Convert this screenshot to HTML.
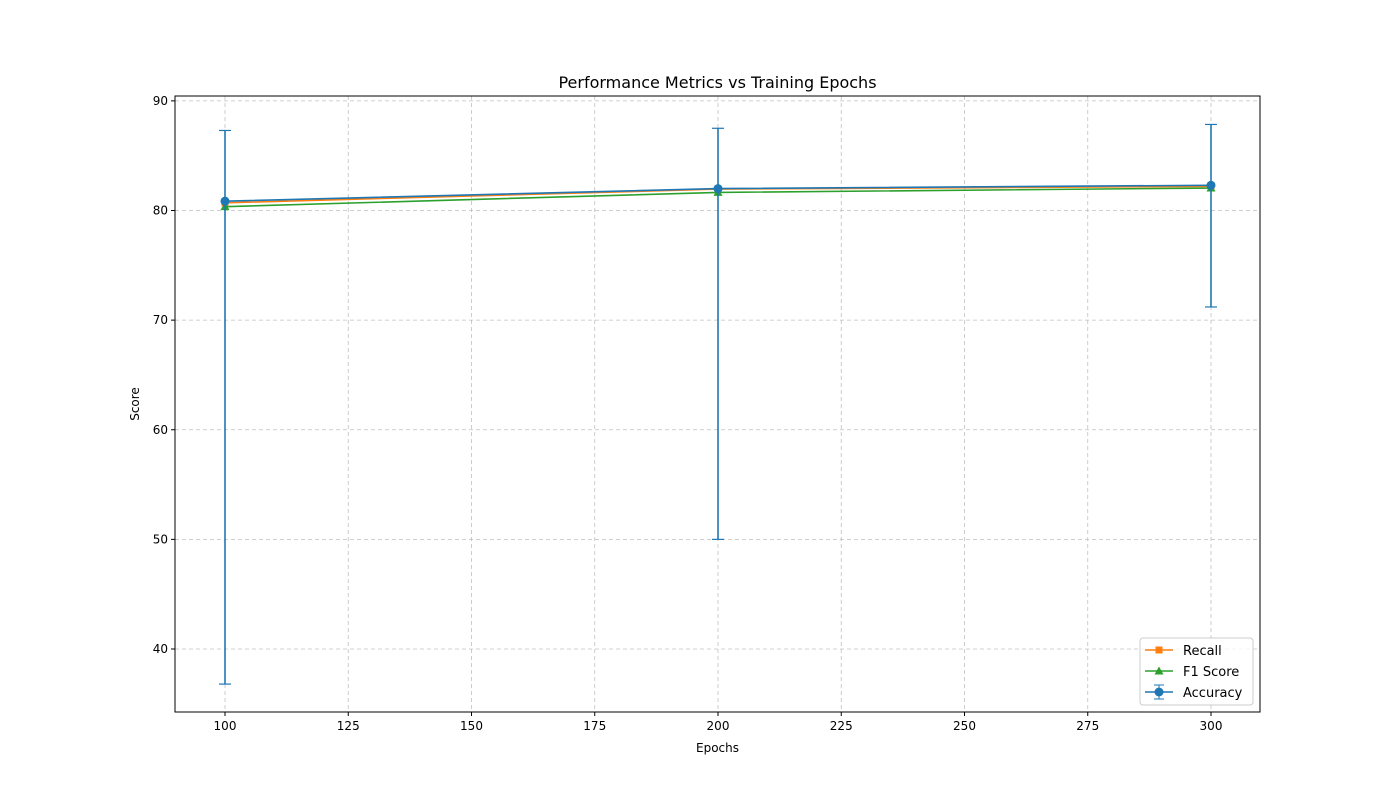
<!DOCTYPE html>
<html><head><meta charset="utf-8"><style>
body{margin:0;background:#fff;}
svg{display:block;font-family:"DejaVu Sans","Liberation Sans",sans-serif;}
</style></head><body>
<svg id="chart" width="1400" height="800"></svg>
<script>
const epochs=[100,200,300];
const recall=[80.7,81.95,82.2];
const f1=[80.35,81.65,82.05];
const accuracy=[80.85,82.0,82.3];
const accLow=[36.8,50.0,71.2];
const accHigh=[87.3,87.5,87.85];
const xTicks=[100,125,150,175,200,225,250,275,300];
const yTicks=[40,50,60,70,80,90];
const L=175,R=1260,T=96,B=712;
const x=v=>225+(v-100)*(1211-225)/200;
const y=v=>210.5+(80-v)*(649-210.5)/40;
const svg=document.getElementById('chart');
const NS='http://www.w3.org/2000/svg';
function mk(tag,attrs,parent){const e=document.createElementNS(NS,tag);for(const k in attrs)e.setAttribute(k,attrs[k]);(parent||svg).appendChild(e);return e;}
function txt(s,attrs){const e=mk('text',attrs);e.textContent=s;return e;}
// grid
xTicks.forEach(t=>{const g=mk('line',{x1:x(t),x2:x(t),y1:T,y2:B,stroke:'#b0b0b0','stroke-width':0.8,'stroke-dasharray':'4,3','stroke-opacity':0.8});

});
yTicks.forEach(t=>{const g=mk('line',{x1:L,x2:R,y1:y(t),y2:y(t),stroke:'#b0b0b0','stroke-width':0.8,'stroke-dasharray':'4,3','stroke-opacity':0.8});

});
// ticks
xTicks.forEach(t=>{mk('line',{x1:x(t),x2:x(t),y1:B,y2:B+4,stroke:'#000'});
const l=txt(t,{x:x(t),y:B+18,'text-anchor':'middle','font-size':12});

});
yTicks.forEach(t=>{mk('line',{x1:L-4,x2:L,y1:y(t),y2:y(t),stroke:'#000'});
const l=txt(t,{x:L-7,y:y(t)+4,'text-anchor':'end','font-size':12});

});
function series(vals,color,name,marker){
  const g=mk('g',{});
  
  
  mk('polyline',{points:vals.map((v,i)=>x(epochs[i])+','+y(v)).join(' '),fill:'none',stroke:color,'stroke-width':1.6},g);
  vals.forEach((v,i)=>drawMarker(g,marker,x(epochs[i]),y(v),color));
}
function drawMarker(g,m,cx,cy,color){
  if(m==='s')mk('rect',{x:cx-3.5,y:cy-3.5,width:7,height:7,fill:color},g);
  else if(m==='^')mk('polygon',{points:`${cx},${cy-4.5} ${cx-4.5},${cy+3.5} ${cx+4.5},${cy+3.5}`,fill:color},g);
  else mk('circle',{cx:cx,cy:cy,r:4.5,fill:color},g);
}
series(recall,'#ff7f0e','recall-series','s');
series(f1,'#2ca02c','f1-series','^');
// error bars
const eb=mk('g',{});


epochs.forEach((e,i)=>{const cx=x(e);
mk('line',{x1:cx,x2:cx,y1:y(accLow[i]),y2:y(accHigh[i]),stroke:'#1f77b4','stroke-width':1.6},eb);
mk('line',{x1:cx-6,x2:cx+6,y1:y(accLow[i]),y2:y(accLow[i]),stroke:'#1f77b4','stroke-width':1.2},eb);
mk('line',{x1:cx-6,x2:cx+6,y1:y(accHigh[i]),y2:y(accHigh[i]),stroke:'#1f77b4','stroke-width':1.2},eb);});
series(accuracy,'#1f77b4','accuracy-series','o');
// frame
mk('rect',{x:L,y:T,width:R-L,height:B-T,fill:'none',stroke:'#000','stroke-width':1});
let t=txt('Performance Metrics vs Training Epochs',{x:(L+R)/2,y:88,'text-anchor':'middle','font-size':16});

t=txt('Epochs',{x:(L+R)/2,y:752,'text-anchor':'middle','font-size':12});

t=txt('Score',{x:0,y:0,'text-anchor':'middle','font-size':12,transform:`translate(139,${(T+B)/2}) rotate(-90)`});

// legend
const lg=mk('g',{});


mk('rect',{x:1140,y:638,width:113,height:67,rx:3,fill:'#fff','fill-opacity':0.8,stroke:'#ccc'},lg);
[['Recall','#ff7f0e','s'],['F1 Score','#2ca02c','^'],['Accuracy','#1f77b4','o']].forEach((d,i)=>{
 const yy=650+i*21;
 const en=mk('g',{},lg);
 
 
 mk('line',{x1:1145,x2:1173,y1:yy,y2:yy,stroke:d[1],'stroke-width':1.6},en);
 if(d[2]==='o'){mk('line',{x1:1159,x2:1159,y1:yy-7,y2:yy+7,stroke:d[1]},en);mk('line',{x1:1154,x2:1164,y1:yy-7,y2:yy-7,stroke:d[1]},en);mk('line',{x1:1154,x2:1164,y1:yy+7,y2:yy+7,stroke:d[1]},en);}
 drawMarker(en,d[2],1159,yy,d[1]);
 const tt=mk('text',{x:1183,y:yy+5,'font-size':13},en);tt.textContent=d[0];
});
</script>
</body></html>
